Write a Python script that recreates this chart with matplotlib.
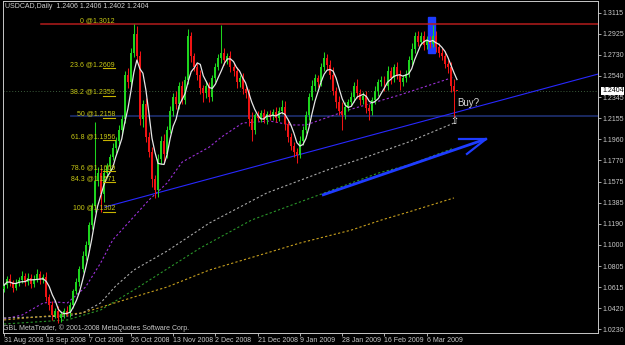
import matplotlib
matplotlib.use('Agg')
import matplotlib.pyplot as plt
import matplotlib.transforms as mtransforms
from matplotlib.patches import Rectangle
import numpy as np
import pandas as pd

plt.rcParams['font.family'] = ['Liberation Sans', 'DejaVu Sans']
FS = 5.0

# --- data (USDCAD daily) ---
header = 'USDCAD,Daily  1.2406 1.2406 1.2402 1.2404'
footer = 'GBL MetaTrader, \u00a9 2001-2008 MetaQuotes Software Corp.'
first_open = 1.0600
closes = [
    1.063, 1.069, 1.066, 1.061, 1.065, 1.068, 1.072, 1.066, 1.070, 1.064,
    1.069, 1.073, 1.068, 1.071, 1.052, 1.045, 1.036, 1.040, 1.033, 1.037,
    1.040, 1.038, 1.045, 1.058, 1.066, 1.078, 1.090, 1.100, 1.118, 1.135,
    1.158, 1.165, 1.146, 1.165, 1.172, 1.180, 1.188, 1.195, 1.205, 1.215,
    1.255, 1.248, 1.275, 1.292, 1.272, 1.215, 1.228, 1.198, 1.185, 1.160,
    1.150, 1.178, 1.195, 1.183, 1.205, 1.222, 1.235, 1.228, 1.245, 1.232,
    1.250, 1.290, 1.272, 1.262, 1.255, 1.243, 1.238, 1.245, 1.235, 1.252,
    1.262, 1.270, 1.275, 1.268, 1.272, 1.262, 1.258, 1.248, 1.252, 1.242,
    1.238, 1.215, 1.205, 1.218, 1.216, 1.220, 1.214, 1.219, 1.217, 1.221,
    1.216, 1.222, 1.226, 1.210, 1.198, 1.190, 1.185, 1.182, 1.195, 1.205,
    1.218, 1.235, 1.245, 1.252, 1.248, 1.262, 1.270, 1.264, 1.255, 1.240,
    1.230, 1.222, 1.218, 1.226, 1.230, 1.235, 1.245, 1.238, 1.232, 1.236,
    1.225, 1.222, 1.232, 1.240, 1.248, 1.250, 1.245, 1.258, 1.252, 1.262,
    1.255, 1.248, 1.252, 1.256, 1.268, 1.278, 1.290, 1.285, 1.290, 1.282,
    1.286, 1.283, 1.290, 1.280, 1.275, 1.272, 1.265, 1.262, 1.245, 1.2406,
    1.2404,
]
# wick lengths in pips above max(open, close) / below min(open, close)
wick_hi = [
    25, 30, 40, 20, 35, 30, 45, 25, 40, 30,
    35, 50, 30, 25, 40, 30, 35, 25, 40, 30,
    25, 45, 30, 20, 35, 25, 40, 30, 25, 35,
    540, 60, 50, 40, 30, 25, 45, 30, 40, 35,
    30, 60, 40, 92, 70, 50, 40, 60, 45, 40,
    35, 50, 40, 60, 30, 45, 35, 50, 30, 40,
    40, 70, 40, 30, 35, 45, 30, 40, 35, 30,
    35, 40, 250, 45, 30, 50, 35, 40, 30, 45,
    30, 40, 60, 25, 40, 30, 35, 25, 40, 30,
    45, 40, 60, 50, 30, 35, 40, 30, 40, 35,
    40, 35, 50, 40, 30, 40, 57, 40, 45, 70,
    40, 60, 80, 40, 30, 45, 35, 60, 40, 30,
    40, 35, 30, 45, 30, 40, 35, 50, 40, 30,
    45, 40, 30, 35, 40, 60, 40, 45, 35, 50,
    40, 45, 100, 50, 35, 40, 45, 30, 50, 60,
    0,
]
wick_lo = [
    30, 25, 35, 40, 25, 30, 25, 40, 30, 35,
    25, 30, 40, 30, 35, 40, 50, 30, 45, 35,
    40, 30, 35, 25, 30, 35, 25, 40, 30, 35,
    50, 45, 160, 70, 40, 45, 30, 40, 35, 45,
    40, 50, 35, 40, 45, 60, 80, 40, 50, 70,
    70, 60, 40, 80, 40, 35, 50, 40, 45, 35,
    40, 35, 50, 40, 45, 60, 80, 40, 45, 35,
    40, 30, 45, 40, 35, 45, 40, 50, 40, 45,
    40, 70, 100, 40, 35, 45, 30, 40, 35, 30,
    40, 35, 30, 50, 45, 40, 50, 70, 30, 40,
    35, 40, 30, 45, 40, 35, 40, 50, 40, 35,
    50, 40, 130, 35, 40, 30, 45, 40, 50, 40,
    45, 80, 40, 35, 40, 30, 45, 40, 50, 35,
    40, 70, 35, 40, 30, 45, 35, 40, 30, 45,
    35, 40, 30, 45, 40, 35, 40, 50, 60, 242,
    2,
]

# slow moving averages (bar index, price)
ma_purple_bars = [0, 6, 13, 17, 21, 27, 32, 36, 42, 48, 54, 59, 68, 72, 79, 88, 95, 100, 114, 131, 149]
ma_purple_vals = [1.0324, 1.0360, 1.0470, 1.0479, 1.0470, 1.0615, 1.0834, 1.1044, 1.1226, 1.1408, 1.1563,
                  1.1754, 1.1891, 1.1982, 1.2110, 1.2128, 1.2092, 1.2092, 1.2228, 1.2365, 1.2529]
ma_gray_bars = [0, 21, 26, 32, 37, 43, 54, 68, 87, 107, 120, 134, 149]
ma_gray_vals = [1.0333, 1.0351, 1.0379, 1.0470, 1.0625, 1.0770, 1.0943, 1.1198, 1.1472, 1.1681, 1.1800, 1.1937, 1.2110]
ma_green_bars = [0, 21, 32, 43, 54, 65, 82, 106, 124, 134, 149]
ma_green_vals = [1.0278, 1.0315, 1.0406, 1.0588, 1.0780, 1.0971, 1.1226, 1.1472, 1.1654, 1.1727, 1.1882]
ma_orange_bars = [0, 26, 43, 54, 68, 87, 98, 115, 125, 134, 149]
ma_orange_vals = [1.0315, 1.0379, 1.0524, 1.0615, 1.0770, 1.0925, 1.1016, 1.1134, 1.1226, 1.1299, 1.1427]

date_ticks = [0, 14, 28, 42, 56, 70, 84, 98, 112, 126, 140]
date_labels = ['31 Aug 2008', '18 Sep 2008', '7 Oct 2008', '26 Oct 2008', '13 Nov 2008', '2 Dec 2008',
               '21 Dec 2008', '9 Jan 2009', '28 Jan 2009', '16 Feb 2009', '6 Mar 2009']
price_ticks = [1.3115, 1.2925, 1.2730, 1.2540, 1.2345, 1.2155, 1.1960, 1.1770,
               1.1575, 1.1385, 1.1190, 1.1000, 1.0805, 1.0615, 1.0420, 1.0230]

fib_names = ['0', '23.6', '38.2', '50', '61.8', '78.6', '84.3', '100']
fib_prices = [1.3012, 1.2609, 1.2359, 1.2158, 1.1956, 1.1669, 1.1571, 1.1302]

bid = 1.2404
resistance = 1.3012
support = 1.2176
trend_pts = [(33.4, 1.1344), (196.7, 1.2556)]
arrow_pts = [(105.3, 1.1452), (159.6, 1.1964)]
arrow_barbs = [(150.7, 1.1964), (153.3, 1.1828)]

# --- candles ---
opens = [first_open] + closes[:-1]
o = np.array(opens)
c = np.array(closes)
hi = np.maximum(o, c) + np.array(wick_hi) * 1e-4
lo = np.minimum(o, c) - np.array(wick_lo) * 1e-4
idx = np.arange(len(closes))
up = c >= o
cols = np.where(up, '#1ed41e', '#f01414')

fig = plt.figure(figsize=(6.25, 3.45), dpi=100, facecolor='black')
ax = fig.add_axes([3 / 625, 12 / 345, 595 / 625, 332 / 345], facecolor='black')
ax.set_xlim(-0.33, 196.7)
ax.set_ylim(1.0196, 1.3222)

ax.add_patch(Rectangle((140.4, 1.2748), 2.3, 0.0328, color='#1e3cff', zorder=2))

ax.vlines(idx, lo, hi, colors=cols, lw=0.75, zorder=4)
body = np.maximum(np.abs(c - o), 0.0003)
ax.bar(idx, body, bottom=np.minimum(o, c), width=0.66, color=cols, linewidth=0, zorder=4)

# moving averages
fast_ma = pd.Series(closes).rolling(5, min_periods=1).mean()
ax.plot(idx, fast_ma, color='#e6e6e6', lw=0.9, zorder=5)
dots = (0, (2, 2))
ax.plot(ma_purple_bars, ma_purple_vals, color='#9b30d8', lw=0.8, ls=dots, zorder=3)
ax.plot(ma_gray_bars, ma_gray_vals, color='#a8a8a8', lw=0.8, ls=dots, zorder=3)
ax.plot(ma_green_bars, ma_green_vals, color='#2a962a', lw=0.8, ls=dots, zorder=3)
ax.plot(ma_orange_bars, ma_orange_vals, color='#c8a01e', lw=0.8, ls=dots, zorder=3)

# horizontal lines
ax.plot([12.25, 200], [resistance, resistance], color='#b41c1c', lw=1.1, zorder=3)
ax.plot([22.2, 200], [support, support], color='#1c2c68', lw=1.3, zorder=1)
ax.axhline(bid, color='#3c5c3c', lw=0.7, ls=(0, (1, 2)), zorder=1)

# fibonacci labels
for name, p in zip(fib_names, fib_prices):
    ax.text(36.75, p, f'{name} @{p:.4f}', color='#c8c814', fontsize=FS, ha='right', va='bottom', zorder=6)
    if name != '0':
        ax.plot([32.8, 36.75], [p, p], color='#c8b400', lw=0.8, zorder=6)

# trend line and arrow
ax.plot(*zip(*trend_pts), color='#2828ff', lw=0.8, zorder=3)
ax.plot(*zip(*arrow_pts), color='#1e3cff', lw=2.0, zorder=6, solid_capstyle='butt')
for b in arrow_barbs:
    ax.plot([b[0], arrow_pts[1][0]], [b[1], arrow_pts[1][1]], color='#1e3cff', lw=1.6, zorder=6)

ax.text(150.2, 1.2292, 'Buy?', color='#d8d8d8', fontsize=7, ha='left', va='center', zorder=7)
ax.text(149, 1.2128, '\u21e7', color='white', fontsize=7, ha='center', va='center',
        family='DejaVu Sans', zorder=7)

# header / footer
ax.text(0.003, 0.982, header, transform=ax.transAxes, color='#d0d0d0', fontsize=FS, va='center')
ax.text(0.0, 0.015, footer, transform=ax.transAxes, color='#c8c8c8', fontsize=FS, va='center')

# axes styling
for s in ax.spines.values():
    s.set_color('#c8c8c8')
    s.set_linewidth(0.7)
ax.yaxis.tick_right()
ax.set_yticks(price_ticks)
ax.set_yticklabels([f'{p:.4f}' for p in price_ticks])
ax.set_xticks(date_ticks)
ax.set_xticklabels(date_labels)
for lbl in ax.get_xticklabels():
    lbl.set_ha('left')
ax.tick_params(axis='both', colors='#c8c8c8', labelsize=FS, length=2, width=0.6, pad=1)

tr = mtransforms.blended_transform_factory(ax.transAxes, ax.transData)
ax.text(1.007, bid, f'{bid:.4f}', transform=tr, color='black', fontsize=FS, va='center', ha='left',
        bbox=dict(facecolor='white', edgecolor='none', pad=0.5), clip_on=False, zorder=8)

fig.savefig('out.png', dpi=100, facecolor='black')
